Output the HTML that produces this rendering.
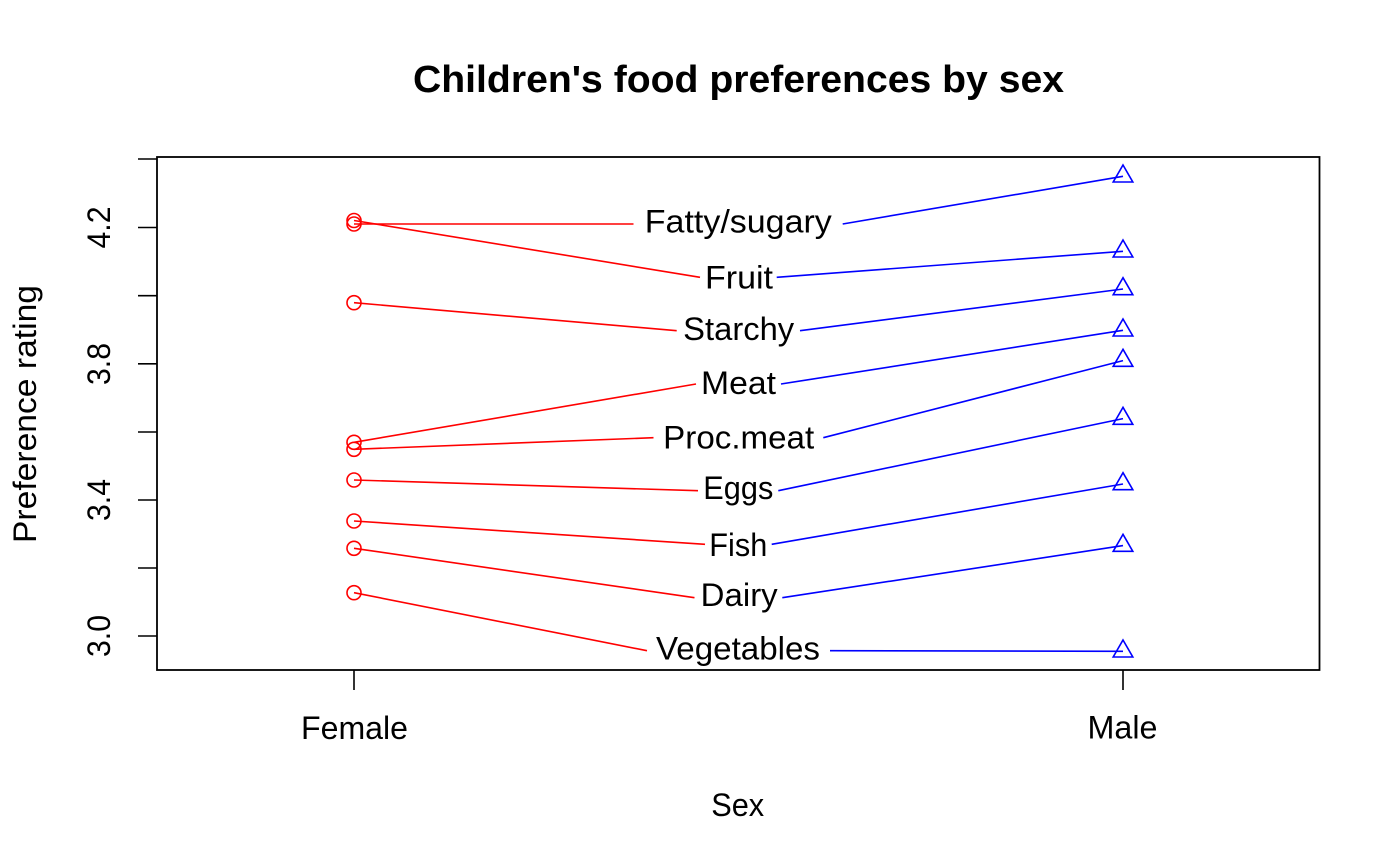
<!DOCTYPE html>
<html>
<head>
<meta charset="utf-8">
<style>
html,body{margin:0;padding:0;background:#fff;}
svg{display:block;}
text{font-family:"Liberation Sans",sans-serif;fill:#000;}
</style>
</head>
<body>
<svg width="1400" height="866" viewBox="0 0 1400 866" xmlns="http://www.w3.org/2000/svg">
<rect x="0" y="0" width="1400" height="866" fill="#fff"/>
<!-- Title -->
<text x="738.5" y="92" font-size="38" font-weight="bold" text-anchor="middle" textLength="651" lengthAdjust="spacingAndGlyphs">Children's food preferences by sex</text>

<!-- Plot box -->
<rect x="157" y="157" width="1162.5" height="513" fill="none" stroke="#000" stroke-width="1.8"/>

<!-- Y axis ticks -->
<g stroke="#000" stroke-width="1.6">
<line x1="138" y1="159" x2="157" y2="159"/>
<line x1="138" y1="227.5" x2="157" y2="227.5"/>
<line x1="138" y1="295.7" x2="157" y2="295.7"/>
<line x1="138" y1="363.8" x2="157" y2="363.8"/>
<line x1="138" y1="432" x2="157" y2="432"/>
<line x1="138" y1="500" x2="157" y2="500"/>
<line x1="138" y1="568" x2="157" y2="568"/>
<line x1="138" y1="636" x2="157" y2="636"/>
<!-- X axis ticks -->
<line x1="354" y1="670" x2="354" y2="690"/>
<line x1="1123" y1="670" x2="1123" y2="690"/>
</g>

<!-- Y tick labels -->
<g font-size="32.5">
<text transform="translate(110,636) rotate(-90)" text-anchor="middle" textLength="42" lengthAdjust="spacingAndGlyphs">3.0</text>
<text transform="translate(110,500) rotate(-90)" text-anchor="middle" textLength="42" lengthAdjust="spacingAndGlyphs">3.4</text>
<text transform="translate(110,364) rotate(-90)" text-anchor="middle" textLength="42" lengthAdjust="spacingAndGlyphs">3.8</text>
<text transform="translate(110,227.5) rotate(-90)" text-anchor="middle" textLength="42" lengthAdjust="spacingAndGlyphs">4.2</text>
<text transform="translate(36,414) rotate(-90)" text-anchor="middle" textLength="258" lengthAdjust="spacingAndGlyphs">Preference rating</text>

<!-- X labels -->
<text x="354.5" y="739" text-anchor="middle" textLength="107" lengthAdjust="spacingAndGlyphs">Female</text>
<text x="1122.5" y="738.5" text-anchor="middle" textLength="70" lengthAdjust="spacingAndGlyphs">Male</text>
<text x="737.7" y="816" text-anchor="middle" textLength="53" lengthAdjust="spacingAndGlyphs">Sex</text>
</g>

<!-- Red lines (female) -->
<g stroke="#ff0000" stroke-width="1.6" fill="none">
<line x1="354" y1="224" x2="633.5" y2="224"/>
<line x1="354" y1="220.5" x2="700" y2="277.3"/>
<line x1="354" y1="302.7" x2="676.7" y2="330.7"/>
<line x1="354" y1="442.3" x2="696" y2="384"/>
<line x1="354" y1="449.3" x2="653.5" y2="437.7"/>
<line x1="354" y1="480" x2="698" y2="490.7"/>
<line x1="354" y1="521" x2="705" y2="544.3"/>
<line x1="354" y1="548.3" x2="694.5" y2="597.7"/>
<line x1="354" y1="592.7" x2="647" y2="650.7"/>
<!-- circles -->
<circle cx="354" cy="224" r="7"/>
<circle cx="354" cy="220.5" r="7"/>
<circle cx="354" cy="302.7" r="7"/>
<circle cx="354" cy="442.3" r="7"/>
<circle cx="354" cy="449.3" r="7"/>
<circle cx="354" cy="480" r="7"/>
<circle cx="354" cy="521" r="7"/>
<circle cx="354" cy="548.3" r="7"/>
<circle cx="354" cy="592.7" r="7"/>
</g>

<!-- Blue lines (male) -->
<g stroke="#0000ff" stroke-width="1.6" fill="none">
<line x1="842.7" y1="224" x2="1123" y2="176.3"/>
<line x1="776.7" y1="277.3" x2="1123" y2="251.3"/>
<line x1="800" y1="330.7" x2="1123" y2="289"/>
<line x1="781" y1="384" x2="1123" y2="330.3"/>
<line x1="823.3" y1="437.7" x2="1123" y2="360.6"/>
<line x1="778.3" y1="490.7" x2="1123" y2="418.6"/>
<line x1="771.7" y1="544.3" x2="1123" y2="484"/>
<line x1="782.3" y1="597.7" x2="1123" y2="545.6"/>
<line x1="830" y1="650.7" x2="1123" y2="651.3"/>
<!-- triangles -->
<polygon points="1123,165 1132.8,182 1113.2,182"/>
<polygon points="1123,240 1132.8,257 1113.2,257"/>
<polygon points="1123,277.7 1132.8,294.7 1113.2,294.7"/>
<polygon points="1123,319 1132.8,336 1113.2,336"/>
<polygon points="1123,349.3 1132.8,366.3 1113.2,366.3"/>
<polygon points="1123,407.3 1132.8,424.3 1113.2,424.3"/>
<polygon points="1123,472.7 1132.8,489.7 1113.2,489.7"/>
<polygon points="1123,534.3 1132.8,551.3 1113.2,551.3"/>
<polygon points="1123,640 1132.8,657 1113.2,657"/>
</g>

<!-- Category labels -->
<g font-size="32.5" text-anchor="middle">
<text x="738.3" y="232.5" textLength="187" lengthAdjust="spacingAndGlyphs">Fatty/sugary</text>
<text x="739" y="288.5" textLength="68" lengthAdjust="spacingAndGlyphs">Fruit</text>
<text x="738.7" y="340" textLength="111" lengthAdjust="spacingAndGlyphs">Starchy</text>
<text x="738.5" y="394" textLength="75" lengthAdjust="spacingAndGlyphs">Meat</text>
<text x="738.7" y="448.5" textLength="151" lengthAdjust="spacingAndGlyphs">Proc.meat</text>
<text x="738.3" y="499" textLength="70" lengthAdjust="spacingAndGlyphs">Eggs</text>
<text x="738.3" y="556" textLength="58" lengthAdjust="spacingAndGlyphs">Fish</text>
<text x="739.2" y="606" textLength="77" lengthAdjust="spacingAndGlyphs">Dairy</text>
<text x="738" y="659.5" textLength="164" lengthAdjust="spacingAndGlyphs">Vegetables</text>
</g>
</svg>
</body>
</html>
